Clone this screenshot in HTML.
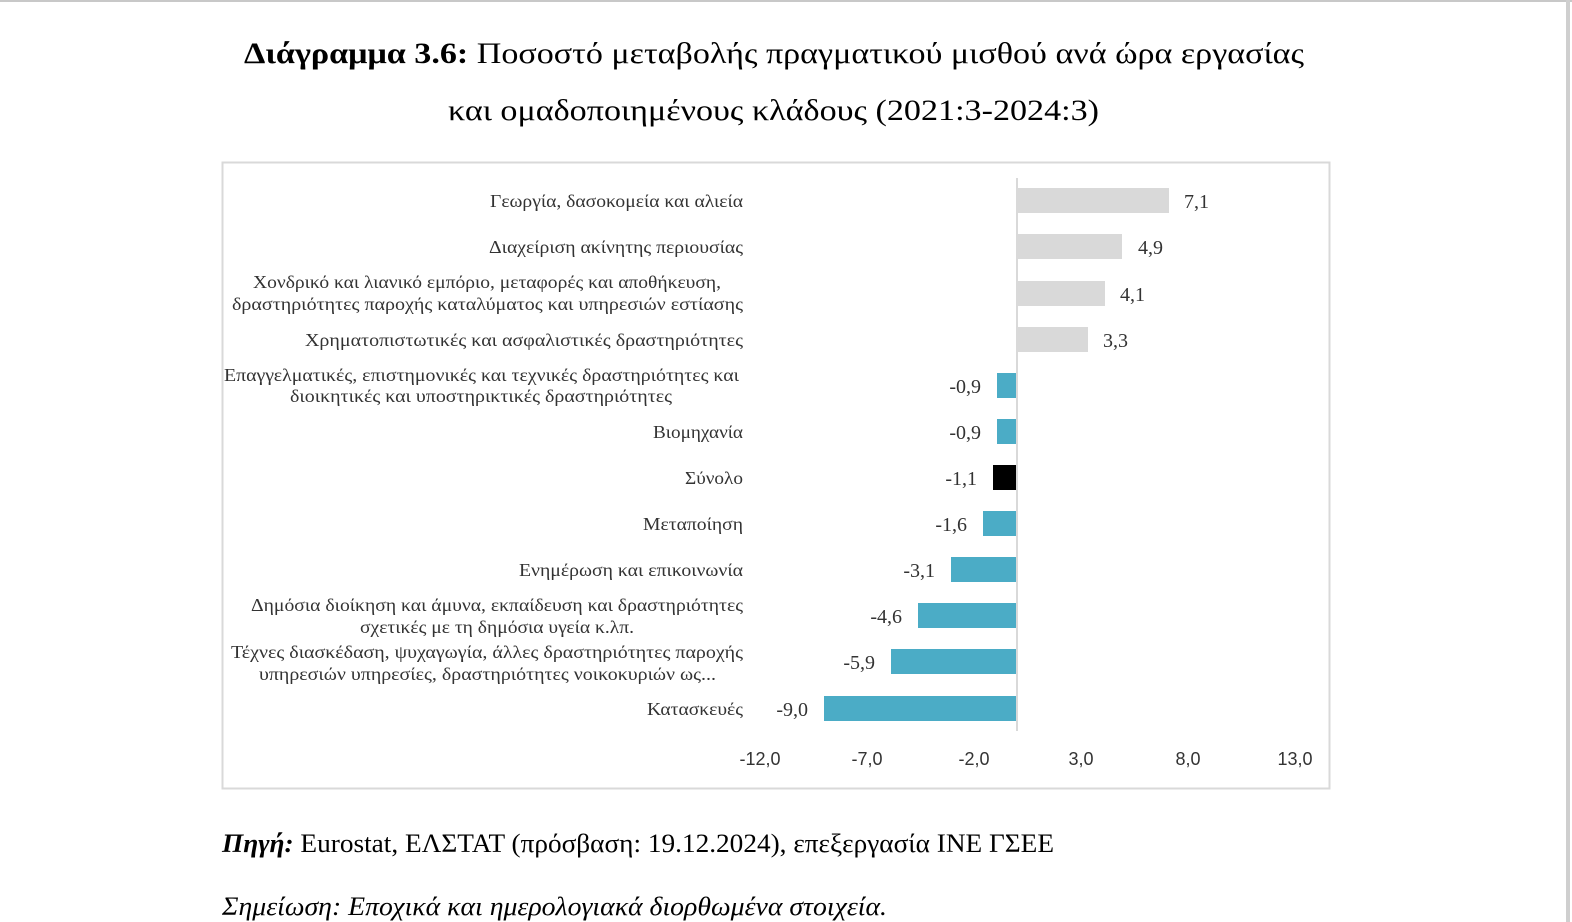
<!DOCTYPE html>
<html><head><meta charset="utf-8"><style>
body{margin:0;background:#fff;width:1572px;height:922px;overflow:hidden;position:relative;font-family:"Liberation Serif","DejaVu Serif",serif;}
</style></head><body>
<div style="position:absolute;left:0;top:0;width:1572px;height:2px;background:#c8c8c8"></div>
<div style="position:absolute;left:1566px;top:0;width:4px;height:922px;background:#cfcfcf"></div>
<svg width="1572" height="922" viewBox="0 0 1572 922" style="position:absolute;left:0;top:0" font-family="Liberation Serif, DejaVu Serif, serif">
<text x="244" y="63" font-size="30" fill="#000" textLength="1060" lengthAdjust="spacingAndGlyphs"><tspan font-weight="bold">Διάγραμμα 3.6:</tspan> Ποσοστό μεταβολής πραγματικού μισθού ανά ώρα εργασίας</text>
<text x="448" y="120" font-size="30" fill="#000" textLength="651" lengthAdjust="spacingAndGlyphs">και ομαδοποιημένους κλάδους (2021:3-2024:3)</text>
<rect x="222.5" y="162.5" width="1107" height="626" fill="none" stroke="#d9d9d9" stroke-width="2"/>
<g font-size="18" fill="#333" lengthAdjust="spacingAndGlyphs">
<rect x="1017" y="188" width="152" height="25" fill="#d9d9d9"/>
<text x="490" y="207" textLength="253" lengthAdjust="spacingAndGlyphs">Γεωργία, δασοκομεία και αλιεία</text>
<rect x="1017" y="234" width="105" height="25" fill="#d9d9d9"/>
<text x="489" y="253" textLength="254" lengthAdjust="spacingAndGlyphs">Διαχείριση ακίνητης περιουσίας</text>
<rect x="1017" y="281" width="88" height="25" fill="#d9d9d9"/>
<text x="253" y="288" textLength="468" lengthAdjust="spacingAndGlyphs">Χονδρικό και λιανικό εμπόριο, μεταφορές και αποθήκευση,</text>
<text x="232" y="310" textLength="511" lengthAdjust="spacingAndGlyphs">δραστηριότητες παροχής καταλύματος και υπηρεσιών εστίασης</text>
<rect x="1017" y="327" width="71" height="25" fill="#d9d9d9"/>
<text x="305" y="346" textLength="438" lengthAdjust="spacingAndGlyphs">Χρηματοπιστωτικές και ασφαλιστικές δραστηριότητες</text>
<rect x="997" y="373" width="20" height="25" fill="#4bacc6"/>
<text x="224" y="381" textLength="515" lengthAdjust="spacingAndGlyphs">Επαγγελματικές, επιστημονικές και τεχνικές δραστηριότητες και</text>
<text x="290" y="402" textLength="382" lengthAdjust="spacingAndGlyphs">διοικητικές και υποστηρικτικές δραστηριότητες</text>
<rect x="997" y="419" width="20" height="25" fill="#4bacc6"/>
<text x="653" y="438" textLength="90" lengthAdjust="spacingAndGlyphs">Βιομηχανία</text>
<rect x="993" y="465" width="24" height="25" fill="#000"/>
<text x="685" y="484" textLength="58" lengthAdjust="spacingAndGlyphs">Σύνολο</text>
<rect x="983" y="511" width="34" height="25" fill="#4bacc6"/>
<text x="643" y="530" textLength="100" lengthAdjust="spacingAndGlyphs">Μεταποίηση</text>
<rect x="951" y="557" width="66" height="25" fill="#4bacc6"/>
<text x="519" y="576" textLength="224" lengthAdjust="spacingAndGlyphs">Ενημέρωση και επικοινωνία</text>
<rect x="918" y="603" width="99" height="25" fill="#4bacc6"/>
<text x="251" y="611" textLength="492" lengthAdjust="spacingAndGlyphs">Δημόσια διοίκηση και άμυνα, εκπαίδευση και δραστηριότητες</text>
<text x="360" y="633" textLength="274" lengthAdjust="spacingAndGlyphs">σχετικές με τη δημόσια υγεία κ.λπ.</text>
<rect x="891" y="649" width="126" height="25" fill="#4bacc6"/>
<text x="231" y="658" textLength="512" lengthAdjust="spacingAndGlyphs">Τέχνες διασκέδαση, ψυχαγωγία, άλλες δραστηριότητες παροχής</text>
<text x="259" y="680" textLength="457" lengthAdjust="spacingAndGlyphs">υπηρεσιών υπηρεσίες, δραστηριότητες νοικοκυριών ως...</text>
<rect x="824" y="696" width="193" height="25" fill="#4bacc6"/>
<text x="647" y="715" textLength="96" lengthAdjust="spacingAndGlyphs">Κατασκευές</text>
</g>
<g font-size="20" fill="#333">
<text x="1184" y="208">7,1</text>
<text x="1138" y="254">4,9</text>
<text x="1120" y="301">4,1</text>
<text x="1103" y="347">3,3</text>
<text x="981" y="393" text-anchor="end">-0,9</text>
<text x="981" y="439" text-anchor="end">-0,9</text>
<text x="977" y="485" text-anchor="end">-1,1</text>
<text x="967" y="531" text-anchor="end">-1,6</text>
<text x="935" y="577" text-anchor="end">-3,1</text>
<text x="902" y="623" text-anchor="end">-4,6</text>
<text x="875" y="669" text-anchor="end">-5,9</text>
<text x="808" y="716" text-anchor="end">-9,0</text>
</g>
<line x1="1017" y1="178" x2="1017" y2="731" stroke="#d9d9d9" stroke-width="2"/>
<g font-size="18" fill="#333" font-family="Liberation Sans, DejaVu Sans, sans-serif">
<text x="760" y="765" text-anchor="middle">-12,0</text>
<text x="867" y="765" text-anchor="middle">-7,0</text>
<text x="974" y="765" text-anchor="middle">-2,0</text>
<text x="1081" y="765" text-anchor="middle">3,0</text>
<text x="1188" y="765" text-anchor="middle">8,0</text>
<text x="1295" y="765" text-anchor="middle">13,0</text>
</g>
<text x="222" y="852" font-size="26" fill="#000" textLength="832" lengthAdjust="spacingAndGlyphs"><tspan font-weight="bold" font-style="italic">Πηγή:</tspan> Eurostat, ΕΛΣΤΑΤ (πρόσβαση: 19.12.2024), επεξεργασία ΙΝΕ ΓΣΕΕ</text>
<text x="222" y="915" font-size="26" font-style="italic" fill="#000" textLength="665" lengthAdjust="spacingAndGlyphs">Σημείωση: Εποχικά και ημερολογιακά διορθωμένα στοιχεία.</text>
</svg>
</body></html>
